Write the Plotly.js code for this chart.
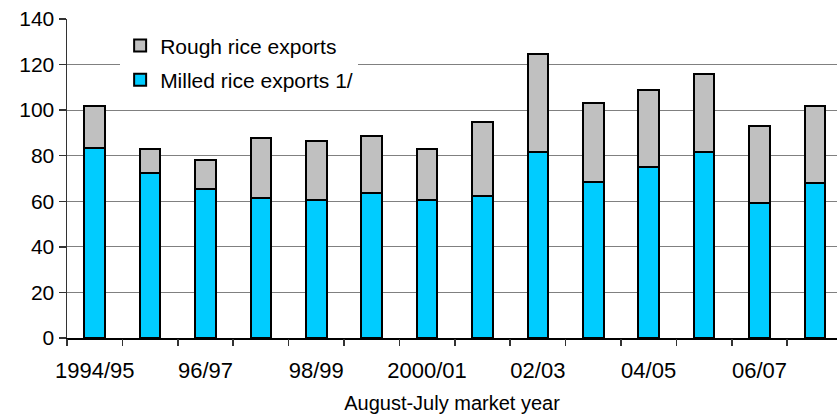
<!DOCTYPE html>
<html>
<head>
<meta charset="utf-8">
<script src="https://cdn.plot.ly/plotly-3.0.1.min.js"></script>
<style>
  html, body { margin: 0; padding: 0; background: #fff; }
  #chart { width: 837px; height: 416px; }
</style>
</head>
<body>
<div id="chart"></div>
<script>
// market years, August-July
const years = ['1994/95', '95/96', '96/97', '97/98', '98/99', '99/2000', '2000/01',
               '01/02', '02/03', '03/04', '04/05', '05/06', '06/07', '07/08'];
const milled = [83.3, 72.3, 65.3, 61.4, 60.7, 63.5, 60.5, 62.3, 81.6, 68.6, 75.0, 81.5, 59.2, 68.0];
const rough = [18.5, 10.7, 12.7, 26.2, 25.9, 25.2, 22.5, 32.4, 43.1, 34.4, 33.9, 34.3, 33.8, 33.9];
const yTicks = [0, 20, 40, 60, 80, 100, 120, 140];

const idx = years.map((y, i) => i);
const labelIdx = idx.filter(i => i % 2 === 0);
const bounds = years.map((y, i) => i - 0.5).concat([years.length - 0.5]);

const font = 'Arial, "Liberation Sans", sans-serif';
const barW = 0.37;

const milledTrace = {
    x: idx,
    y: milled,
    type: 'bar',
    name: 'Milled rice exports 1/',
    legendgroup: 'm',
    legendrank: 2,
    width: barW,
    marker: { color: '#00CCFF', line: { color: '#000', width: 2 } },
    hoverinfo: 'y'
};

const roughTrace = {
    x: idx,
    y: rough,
    type: 'bar',
    name: 'Rough rice exports',
    legendgroup: 'r',
    legendrank: 1,
    width: barW,
    marker: { color: '#C0C0C0', line: { color: '#000', width: 2 } },
    hoverinfo: 'y'
};

// invisible trace so the boundary tick axis gets drawn
const tickTrace = {
    x: [0], y: [0], xaxis: 'x2', type: 'scatter', mode: 'markers',
    marker: { opacity: 0 }, showlegend: false, hoverinfo: 'skip'
};

const range = [-0.5, 13.4];

const layout = {
    width: 837,
    height: 416,
    margin: { l: 67, r: 0, t: 19, b: 78 },
    paper_bgcolor: '#fff',
    plot_bgcolor: '#fff',
    barmode: 'stack',
    font: { family: font, color: '#000', size: 20 },
    showlegend: true,
    legend: {
        x: 0.069, y: 0.98, xanchor: 'left', yanchor: 'top',
        bgcolor: '#fff', borderwidth: 0,
        font: { family: font, size: 21 },
        traceorder: 'grouped',
        tracegroupgap: 4
    },
    xaxis: {
        range: range,
        tickmode: 'array',
        tickvals: labelIdx,
        ticktext: labelIdx.map(i => years[i]),
        ticks: '',
        ticklabelstandoff: 12,
        tickfont: { family: font, size: 22 },
        showgrid: false,
        zeroline: false,
        showline: true,
        linecolor: '#000',
        linewidth: 1.5,
        title: { text: 'August-July market year', font: { family: font, size: 20 }, standoff: 14 }
    },
    xaxis2: {
        overlaying: 'x',
        anchor: 'y',
        side: 'bottom',
        range: range,
        tickmode: 'array',
        tickvals: bounds,
        ticks: 'outside',
        ticklen: 7,
        tickwidth: 1.5,
        tickcolor: '#333',
        showticklabels: false,
        showgrid: false,
        zeroline: false,
        showline: false
    },
    yaxis: {
        range: [0, 140],
        tickmode: 'array',
        tickvals: yTicks,
        ticks: 'outside',
        ticklen: 7,
        tickwidth: 1.5,
        tickcolor: '#333',
        tickfont: { family: font, size: 21 },
        showgrid: true,
        gridcolor: '#808080',
        gridwidth: 1,
        zeroline: false,
        showline: true,
        linecolor: '#333',
        linewidth: 1.5
    }
};

Plotly.newPlot('chart', [milledTrace, roughTrace, tickTrace], layout, { displayModeBar: false, staticPlot: true });
</script>
</body>
</html>
